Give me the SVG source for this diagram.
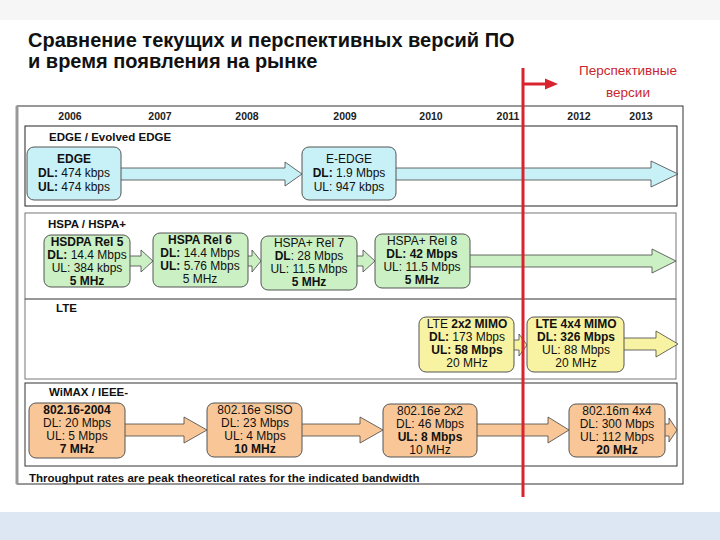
<svg xmlns="http://www.w3.org/2000/svg" width="720" height="540" viewBox="0 0 720 540">
<style>
text{font-family:"Liberation Sans",Arial,sans-serif;}
.title{font-size:20px;font-weight:bold;fill:#111;}
.red{font-size:13.5px;fill:#c8262e;}
.yr{font-size:10.5px;font-weight:bold;fill:#222;text-anchor:middle;}
.sec{font-size:11.5px;font-weight:bold;fill:#111;}
.nt{font-size:12px;fill:#111;text-anchor:middle;}
.b{font-weight:bold;}
.box{stroke:#555;stroke-width:1;}
.cyan{fill:#c8f0f7;}
.green{fill:#caf0c4;}
.yel{fill:#f8f3a2;}
.org{fill:#f9c797;}
.arr{stroke:#444;stroke-width:0.8;}
</style>
<rect x="0" y="0" width="720" height="20" fill="#f6f6f6"/>
<rect x="0" y="512" width="720" height="28" fill="#dde7f4"/>
<text class="title" x="28" y="47">Сравнение текущих и перспективных версий ПО</text>
<text class="title" x="28" y="68">и время появления на рынке</text>
<text class="red" x="628" y="75" text-anchor="middle">Перспективные</text>
<text class="red" x="628" y="97" text-anchor="middle">версии</text>

<g id="frame">
<rect x="17" y="106" width="666" height="378" fill="#fff" stroke="#333" stroke-width="1"/>
<line x1="17" y1="106" x2="17" y2="484" stroke="#999" stroke-width="3"/>
<rect x="25" y="126" width="652" height="80" fill="none" stroke="#222" stroke-width="1"/>
<rect x="25" y="213" width="651" height="86" fill="none" stroke="#777" stroke-width="1"/>
<rect x="25" y="299" width="651" height="80" fill="none" stroke="#777" stroke-width="1"/>
<rect x="25" y="383" width="652" height="83" fill="none" stroke="#333" stroke-width="1"/>
</g>
<g id="years">
<text class="yr" x="70" y="120">2006</text>
<text class="yr" x="160" y="120">2007</text>
<text class="yr" x="247" y="120">2008</text>
<text class="yr" x="345" y="120">2009</text>
<text class="yr" x="431" y="120">2010</text>
<text class="yr" x="508" y="120">2011</text>
<text class="yr" x="579" y="120">2012</text>
<text class="yr" x="641" y="120">2013</text>
</g>
<g id="sections">
<text class="sec" x="49" y="141">EDGE / Evolved EDGE</text>
<text class="sec" x="48" y="228">HSPA / HSPA+</text>
<text class="sec" x="56" y="312">LTE</text>
<text class="sec" x="49" y="396">WiMAX / IEEE-</text>
<text x="29" y="482" style="font-size:11.5px;font-weight:bold;fill:#111">Throughput rates are peak theoretical rates for the indicated bandwidth</text>
</g>

<g id="connectors">
<path class="arr cyan" d="M121,168 L285,168 L285,162 L302,174 L285,186 L285,180 L121,180"/>
<path class="arr cyan" d="M396,168 L651,168 L651,161 L678,174 L651,187 L651,180 L396,180"/>
<path class="arr green" d="M130,256 L141,256 L141,250 L153,261 L141,272 L141,266 L130,266"/>
<path class="arr green" d="M248,256 L252,256 L252,250 L261,261 L252,272 L252,266 L248,266"/>
<path class="arr green" d="M357,256 L363,256 L363,250 L375,261 L363,272 L363,266 L357,266"/>
<path class="arr green" d="M470,255 L652,255 L652,249 L676,261 L652,273 L652,267 L470,267"/>
<path class="arr yel" d="M514,340 L519,340 L519,334 L527,345 L519,356 L519,350 L514,350"/>
<path class="arr yel" d="M624,338 L656,338 L656,331 L678,344 L656,357 L656,350 L624,350"/>
<path class="arr org" d="M125,424 L184,424 L184,417 L207,430 L184,443 L184,436 L125,436"/>
<path class="arr org" d="M302,424 L360,424 L360,417 L383,430 L360,443 L360,436 L302,436"/>
<path class="arr org" d="M477,424 L548,424 L548,417 L569,430 L548,443 L548,436 L477,436"/>
<path class="arr org" d="M665,424 L669,424 L669,418 L677,430 L669,442 L669,436 L665,436"/>
</g>

<g id="edge">
<rect class="box cyan" x="27" y="147" width="94" height="53" rx="7"/>
<text class="nt" x="74" y="163"><tspan class="b">EDGE</tspan><tspan x="74" dy="14"><tspan class="b">DL:</tspan> 474 kbps</tspan><tspan x="74" dy="14"><tspan class="b">UL:</tspan> 474 kbps</tspan></text>
</g>
<g id="eedge">
<rect class="box cyan" x="302" y="147" width="94" height="53" rx="7"/>
<text class="nt" x="349" y="163">E-EDGE<tspan x="349" dy="14"><tspan class="b">DL:</tspan> 1.9 Mbps</tspan><tspan x="349" dy="14">UL: 947 kbps</tspan></text>
</g>

<g id="hsdpa5">
<rect class="box green" x="44" y="235" width="86" height="52" rx="7"/>
<text class="nt" x="87" y="246"><tspan class="b">HSDPA Rel 5</tspan><tspan x="87" dy="13"><tspan class="b">DL:</tspan> 14.4 Mbps</tspan><tspan x="87" dy="13">UL: 384 kbps</tspan><tspan x="87" dy="13" class="b">5 MHz</tspan></text>
</g>
<g id="hspa6">
<rect class="box green" x="153" y="233" width="95" height="54" rx="7"/>
<text class="nt" x="200" y="244"><tspan class="b">HSPA Rel 6</tspan><tspan x="200" dy="13"><tspan class="b">DL:</tspan> 14.4 Mbps</tspan><tspan x="200" dy="13"><tspan class="b">UL:</tspan> 5.76 Mbps</tspan><tspan x="200" dy="13">5 MHz</tspan></text>
</g>
<g id="hspa7">
<rect class="box green" x="261" y="236" width="96" height="54" rx="7"/>
<text class="nt" x="309" y="247">HSPA+ Rel 7<tspan x="309" dy="13"><tspan class="b">DL</tspan>: 28 Mbps</tspan><tspan x="309" dy="13">UL: 11.5 Mbps</tspan><tspan x="309" dy="13" class="b">5 MHz</tspan></text>
</g>
<g id="hspa8">
<rect class="box green" x="375" y="234" width="95" height="54" rx="7"/>
<text class="nt" x="422" y="245">HSPA+ Rel 8<tspan x="422" dy="13"><tspan class="b">DL: 42 Mbps</tspan></tspan><tspan x="422" dy="13">UL: 11.5 Mbps</tspan><tspan x="422" dy="13" class="b">5 MHz</tspan></text>
</g>

<g id="lte2">
<rect class="box yel" x="419" y="317" width="95" height="55" rx="7"/>
<text class="nt" x="467" y="328">LTE <tspan class="b">2x2 MIMO</tspan><tspan x="467" dy="13"><tspan class="b">DL:</tspan> 173 Mbps</tspan><tspan x="467" dy="13" class="b">UL: 58 Mbps</tspan><tspan x="467" dy="13">20 MHz</tspan></text>
</g>
<g id="lte4">
<rect class="box yel" x="527" y="317" width="97" height="55" rx="7"/>
<text class="nt" x="576" y="328"><tspan class="b">LTE 4x4 MIMO</tspan><tspan x="576" dy="13" class="b">DL: 326 Mbps</tspan><tspan x="576" dy="13">UL: 88 Mbps</tspan><tspan x="576" dy="13">20 MHz</tspan></text>
</g>

<g id="w2004">
<rect class="box org" x="29" y="403" width="96" height="55" rx="7"/>
<text class="nt" x="77" y="414"><tspan class="b">802.16-2004</tspan><tspan x="77" dy="13">DL: 20 Mbps</tspan><tspan x="77" dy="13">UL: 5 Mbps</tspan><tspan x="77" dy="13" class="b">7 MHz</tspan></text>
</g>
<g id="w16e">
<rect class="box org" x="207" y="403" width="95" height="54" rx="7"/>
<text class="nt" x="255" y="414">802.16e SISO<tspan x="255" dy="13">DL: 23 Mbps</tspan><tspan x="255" dy="13">UL: 4 Mbps</tspan><tspan x="255" dy="13" class="b">10 MHz</tspan></text>
</g>
<g id="w16e2">
<rect class="box org" x="383" y="404" width="94" height="53" rx="7"/>
<text class="nt" x="430" y="415">802.16e 2x2<tspan x="430" dy="13">DL: 46 Mbps</tspan><tspan x="430" dy="13" class="b">UL: 8 Mbps</tspan><tspan x="430" dy="13">10 MHz</tspan></text>
</g>
<g id="w16m">
<rect class="box org" x="569" y="404" width="96" height="53" rx="7"/>
<text class="nt" x="617" y="415">802.16m 4x4<tspan x="617" dy="13">DL: 300 Mbps</tspan><tspan x="617" dy="13">UL: 112 Mbps</tspan><tspan x="617" dy="13" class="b">20 MHz</tspan></text>
</g>

<g id="marker">
<line x1="523" y1="68" x2="523" y2="497" stroke="#d9232e" stroke-width="3"/>
<line x1="523" y1="84" x2="546" y2="84" stroke="#d9232e" stroke-width="3"/>
<polygon points="545,78.5 558,84 545,89.5" fill="#d9232e"/>
</g>
</svg>
